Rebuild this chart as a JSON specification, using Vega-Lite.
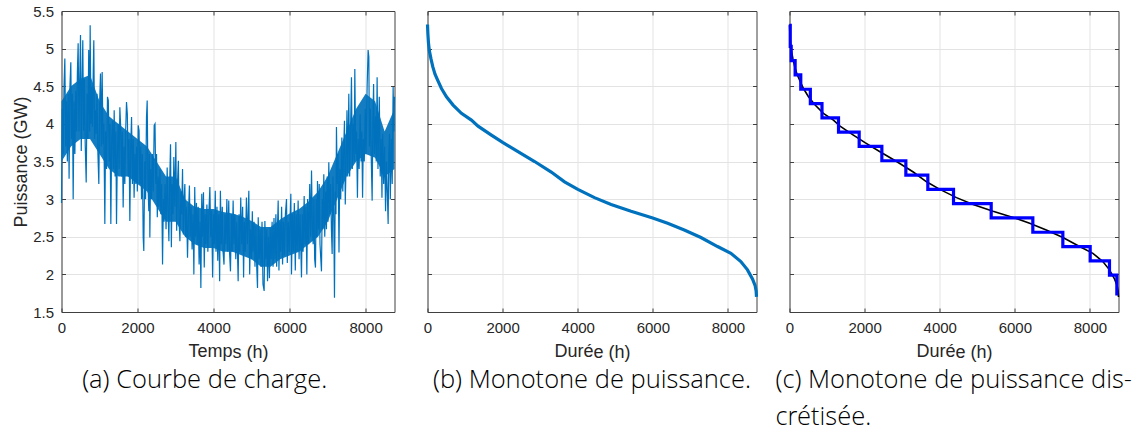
{
  "$schema": "https://vega.github.io/schema/vega-lite/v6.json",
  "padding": {"left": 11.5, "top": 4, "right": 5, "bottom": 0},
  "spacing": 33,
  "bounds": "flush",
  "datasets": {
    "frame": [{"t": 0, "v": 1.5}, {"t": 8760, "v": 5.5}],
    "load": [
      {"h":0,"p":2.95},{"h":20,"p":4.2},{"h":44,"p":3.6},{"h":66,"p":4.5},{"h":88,"p":4.87},{"h":110,"p":3.7},{"h":132,"p":4.3},{"h":154,"p":3.5},{"h":176,"p":4.4},{"h":200,"p":3.27},{"h":222,"p":4.5},{"h":245,"p":4.82},{"h":266,"p":3.8},{"h":287,"p":4.4},{"h":307,"p":3.0},{"h":330,"p":4.3},{"h":352,"p":3.6},{"h":374,"p":4.44},{"h":396,"p":3.9},{"h":418,"p":4.69},{"h":438,"p":5.07},{"h":460,"p":3.9},{"h":480,"p":4.6},{"h":500,"p":5.18},{"h":520,"p":3.64},{"h":540,"p":4.5},{"h":560,"p":5.11},{"h":580,"p":3.91},{"h":600,"p":4.6},{"h":625,"p":3.7},{"h":650,"p":3.22},{"h":672,"p":4.4},{"h":694,"p":3.8},{"h":716,"p":4.98},{"h":740,"p":3.9},{"h":754,"p":5.31},{"h":775,"p":4.0},{"h":795,"p":4.5},{"h":815,"p":3.96},{"h":835,"p":4.7},{"h":850,"p":5.11},{"h":870,"p":3.8},{"h":890,"p":4.18},{"h":912,"p":3.87},{"h":935,"p":4.4},{"h":958,"p":3.6},{"h":982,"p":3.2},
      {"h":1004,"p":4.3},{"h":1026,"p":4.67},{"h":1048,"p":3.7},{"h":1070,"p":4.69},{"h":1092,"p":3.73},{"h":1114,"p":4.0},{"h":1140,"p":2.67},{"h":1160,"p":3.9},{"h":1185,"p":3.4},{"h":1210,"p":4.36},{"h":1232,"p":4.31},{"h":1255,"p":3.5},{"h":1276,"p":4.0},{"h":1298,"p":2.67},{"h":1320,"p":3.8},{"h":1342,"p":4.04},{"h":1365,"p":3.4},{"h":1386,"p":4.18},{"h":1410,"p":3.3},{"h":1430,"p":3.9},{"h":1447,"p":2.67},{"h":1470,"p":3.6},{"h":1492,"p":4.0},{"h":1515,"p":3.4},{"h":1535,"p":4.22},{"h":1557,"p":3.96},{"h":1580,"p":3.3},{"h":1600,"p":3.9},{"h":1622,"p":2.89},{"h":1645,"p":3.7},{"h":1666,"p":3.2},{"h":1688,"p":3.9},{"h":1710,"p":4.29},{"h":1732,"p":4.13},{"h":1755,"p":3.3},{"h":1776,"p":3.8},{"h":1798,"p":2.71},{"h":1820,"p":3.7},{"h":1843,"p":4.09},{"h":1865,"p":3.2},{"h":1888,"p":3.8},{"h":1910,"p":3.02},{"h":1932,"p":3.6},{"h":1955,"p":3.2},{"h":1975,"p":3.7},{"h":1995,"p":3.1},{"h":2017,"p":3.98},{"h":2040,"p":3.91},{"h":2062,"p":3.2},{"h":2085,"p":3.7},{"h":2105,"p":3.0},{"h":2127,"p":3.6},{"h":2149,"p":2.49},{"h":2165,"p":2.31},{"h":2190,"p":3.5},{"h":2212,"p":3.0},{"h":2236,"p":4.09},{"h":2254,"p":4.31},
      {"h":2275,"p":3.2},{"h":2297,"p":2.84},{"h":2310,"p":3.6},{"h":2324,"p":2.49},{"h":2345,"p":3.4},{"h":2368,"p":3.0},{"h":2390,"p":3.6},{"h":2415,"p":3.1},{"h":2438,"p":3.98},{"h":2460,"p":4.0},{"h":2480,"p":3.2},{"h":2500,"p":3.6},{"h":2520,"p":2.76},{"h":2545,"p":3.3},{"h":2565,"p":2.9},{"h":2590,"p":3.4},{"h":2612,"p":2.8},{"h":2635,"p":3.2},{"h":2658,"p":2.13},{"h":2680,"p":3.0},{"h":2700,"p":2.7},{"h":2725,"p":3.2},{"h":2750,"p":2.6},{"h":2780,"p":3.42},{"h":2800,"p":2.9},{"h":2825,"p":2.44},{"h":2845,"p":3.2},{"h":2868,"p":3.73},{"h":2890,"p":2.36},{"h":2910,"p":3.2},{"h":2935,"p":2.8},{"h":2955,"p":3.56},{"h":2980,"p":2.9},{"h":3008,"p":3.76},{"h":3030,"p":2.58},{"h":3050,"p":3.2},{"h":3075,"p":3.51},{"h":3095,"p":2.7},{"h":3115,"p":2.44},{"h":3140,"p":3.1},{"h":3160,"p":2.8},{"h":3184,"p":3.4},{"h":3205,"p":2.53},
      {"h":3225,"p":3.0},{"h":3245,"p":3.2},{"h":3265,"p":2.5},{"h":3290,"p":2.9},{"h":3315,"p":2.22},{"h":3340,"p":2.8},{"h":3365,"p":3.18},{"h":3385,"p":2.5},{"h":3410,"p":2.9},{"h":3435,"p":2.33},{"h":3460,"p":2.8},{"h":3482,"p":2.0},{"h":3505,"p":3.16},{"h":3525,"p":2.5},{"h":3550,"p":2.95},{"h":3570,"p":2.4},{"h":3595,"p":2.9},{"h":3620,"p":2.13},{"h":3645,"p":2.7},{"h":3666,"p":1.82},{"h":3690,"p":3.07},{"h":3710,"p":2.5},{"h":3735,"p":3.09},{"h":3755,"p":2.09},{"h":3780,"p":2.8},{"h":3800,"p":2.4},{"h":3825,"p":2.93},{"h":3850,"p":2.3},{"h":3875,"p":2.8},{"h":3903,"p":3.16},{"h":3925,"p":2.5},{"h":3950,"p":2.85},{"h":3975,"p":1.96},{"h":4000,"p":2.8},{"h":4020,"p":2.4},{"h":4045,"p":3.11},{"h":4065,"p":2.3},{"h":4090,"p":2.9},{"h":4110,"p":2.18},{"h":4135,"p":2.8},{"h":4160,"p":1.91},{"h":4180,"p":3.11},{"h":4205,"p":2.4},{"h":4230,"p":2.9},{"h":4250,"p":2.3},{"h":4275,"p":2.13},{"h":4300,"p":2.8},{"h":4325,"p":2.4},{"h":4350,"p":3.0},{"h":4375,"p":2.3},{"h":4400,"p":2.98},
      {"h":4420,"p":2.3},{"h":4445,"p":2.04},{"h":4470,"p":2.8},{"h":4490,"p":2.3},{"h":4515,"p":2.98},{"h":4535,"p":2.4},{"h":4560,"p":2.8},{"h":4585,"p":2.2},{"h":4610,"p":2.7},{"h":4647,"p":1.91},{"h":4670,"p":2.8},{"h":4690,"p":2.3},{"h":4715,"p":3.02},{"h":4740,"p":2.4},{"h":4765,"p":2.9},{"h":4790,"p":1.96},{"h":4810,"p":2.7},{"h":4835,"p":2.3},{"h":4865,"p":3.02},{"h":4890,"p":2.4},{"h":4910,"p":2.8},{"h":4928,"p":3.11},{"h":4950,"p":2.0},{"h":4975,"p":2.6},{"h":5000,"p":2.2},{"h":5020,"p":2.84},{"h":5040,"p":2.3},{"h":5065,"p":2.7},{"h":5090,"p":2.1},{"h":5115,"p":2.65},{"h":5135,"p":2.1},{"h":5156,"p":1.82},{"h":5175,"p":2.76},{"h":5200,"p":2.2},{"h":5225,"p":2.6},{"h":5250,"p":2.1},{"h":5275,"p":2.7},{"h":5300,"p":1.87},{"h":5331,"p":1.78},{"h":5350,"p":2.71},{"h":5375,"p":2.2},{"h":5400,"p":2.6},{"h":5420,"p":1.91},{"h":5445,"p":2.5},{"h":5470,"p":1.95},{"h":5490,"p":2.62},{"h":5515,"p":2.2},{"h":5540,"p":2.7},{"h":5565,"p":2.1},{"h":5590,"p":2.75},{"h":5615,"p":2.2},{"h":5640,"p":2.8},{"h":5660,"p":2.1},{"h":5680,"p":2.6},{"h":5700,"p":2.98},{"h":5720,"p":2.05},{"h":5745,"p":2.7},{"h":5765,"p":2.3},{"h":5790,"p":2.9},{"h":5815,"p":2.13},{"h":5840,"p":2.7},{"h":5865,"p":2.25},{"h":5890,"p":2.8},{"h":5919,"p":3.0},{"h":5940,"p":2.15},{"h":5965,"p":2.7},{"h":5990,"p":2.3},{"h":6033,"p":3.07},{"h":6050,"p":2.0},{"h":6075,"p":2.8},{"h":6100,"p":2.3},{"h":6125,"p":2.95},{"h":6150,"p":2.05},{"h":6175,"p":2.8},{"h":6200,"p":2.3},{"h":6225,"p":2.98},{"h":6250,"p":2.2},{"h":6275,"p":2.8},{"h":6313,"p":1.96},{"h":6335,"p":2.8},{"h":6355,"p":2.3},{"h":6384,"p":3.04},{"h":6405,"p":2.4},{"h":6430,"p":2.9},{"h":6454,"p":2.0},{"h":6475,"p":3.0},{"h":6500,"p":2.4},{"h":6530,"p":3.2},{"h":6555,"p":2.5},{"h":6577,"p":3.38},{"h":6600,"p":2.6},{"h":6620,"p":2.4},{"h":6640,"p":3.0},{"h":6660,"p":2.2},{"h":6681,"p":2.09},{"h":6700,"p":3.0},{"h":6720,"p":2.5},{"h":6734,"p":3.24},
      {"h":6760,"p":2.6},{"h":6780,"p":3.2},{"h":6800,"p":2.4},{"h":6839,"p":2.04},{"h":6860,"p":3.0},{"h":6880,"p":2.6},{"h":6900,"p":3.33},{"h":6925,"p":2.5},{"h":6950,"p":3.1},{"h":6970,"p":2.6},{"h":6990,"p":3.3},{"h":7010,"p":2.7},{"h":7032,"p":3.49},{"h":7055,"p":2.8},{"h":7080,"p":3.2},{"h":7100,"p":2.6},{"h":7120,"p":2.27},{"h":7140,"p":3.3},{"h":7160,"p":2.9},{"h":7181,"p":1.69},{"h":7200,"p":3.1},{"h":7220,"p":2.8},{"h":7233,"p":3.96},{"h":7255,"p":3.2},{"h":7275,"p":3.6},{"h":7300,"p":2.29},{"h":7320,"p":3.4},{"h":7345,"p":3.0},{"h":7375,"p":3.82},{"h":7400,"p":3.1},{"h":7420,"p":3.6},{"h":7444,"p":4.04},{"h":7465,"p":2.93},{"h":7490,"p":3.6},{"h":7510,"p":4.18},{"h":7530,"p":3.3},{"h":7558,"p":4.4},{"h":7580,"p":3.3},{"h":7600,"p":3.8},{"h":7628,"p":4.62},{"h":7650,"p":3.4},{"h":7675,"p":4.0},{"h":7700,"p":3.5},{"h":7716,"p":4.73},{"h":7740,"p":3.6},{"h":7760,"p":3.9},{"h":7785,"p":3.02},{"h":7805,"p":3.8},{"h":7830,"p":3.4},{"h":7856,"p":4.13},{"h":7880,"p":3.5},{"h":7900,"p":3.9},{"h":7920,"p":3.02},{"h":7940,"p":3.8},{"h":7965,"p":3.5},{"h":7990,"p":4.2},{"h":8010,"p":3.6},{"h":8040,"p":4.49},{"h":8066,"p":4.98},{"h":8085,"p":4.89},{"h":8100,"p":3.7},{"h":8125,"p":4.2},{"h":8150,"p":3.5},{"h":8172,"p":2.98},{"h":8190,"p":4.0},{"h":8210,"p":4.53},{"h":8230,"p":3.6},{"h":8260,"p":4.1},{"h":8280,"p":3.5},{"h":8303,"p":4.62},{"h":8325,"p":3.4},{"h":8345,"p":4.0},{"h":8360,"p":4.36},{"h":8385,"p":3.3},{"h":8410,"p":3.8},{"h":8430,"p":3.02},{"h":8450,"p":3.87},{"h":8475,"p":3.2},{"h":8500,"p":3.7},{"h":8525,"p":2.84},{"h":8550,"p":3.5},{"h":8575,"p":3.0},{"h":8593,"p":2.67},{"h":8610,"p":3.6},{"h":8630,"p":3.87},{"h":8650,"p":3.0},{"h":8675,"p":3.8},{"h":8700,"p":3.2},{"h":8724,"p":4.49},{"h":8745,"p":3.9},{"h":8760,"p":4.36}
    ],
    "core": [
      {"h":0,"lo":3.5,"hi":4.3},{"h":250,"lo":3.7,"hi":4.5},{"h":500,"lo":3.8,"hi":4.6},{"h":750,"lo":3.8,"hi":4.65},{"h":1000,"lo":3.6,"hi":4.3},{"h":1250,"lo":3.4,"hi":4.1},{"h":1500,"lo":3.3,"hi":4.0},{"h":1750,"lo":3.3,"hi":3.9},{"h":2000,"lo":3.2,"hi":3.8},{"h":2250,"lo":3.1,"hi":3.7},{"h":2500,"lo":2.9,"hi":3.5},{"h":2750,"lo":2.7,"hi":3.3},{"h":3000,"lo":2.7,"hi":3.3},{"h":3250,"lo":2.5,"hi":3.0},{"h":3500,"lo":2.4,"hi":2.9},{"h":3750,"lo":2.35,"hi":2.87},{"h":4000,"lo":2.35,"hi":2.87},{"h":4250,"lo":2.3,"hi":2.83},{"h":4500,"lo":2.3,"hi":2.81},{"h":4750,"lo":2.25,"hi":2.77},{"h":5000,"lo":2.2,"hi":2.71},{"h":5250,"lo":2.1,"hi":2.63},{"h":5500,"lo":2.1,"hi":2.63},{"h":5750,"lo":2.2,"hi":2.73},{"h":6000,"lo":2.25,"hi":2.81},{"h":6250,"lo":2.3,"hi":2.87},{"h":6500,"lo":2.4,"hi":2.97},{"h":6750,"lo":2.5,"hi":3.1},{"h":7000,"lo":2.7,"hi":3.3},{"h":7250,"lo":3.0,"hi":3.6},{"h":7500,"lo":3.3,"hi":3.9},{"h":7750,"lo":3.5,"hi":4.2},{"h":8000,"lo":3.6,"hi":4.4},{"h":8250,"lo":3.55,"hi":4.3},{"h":8500,"lo":3.3,"hi":3.9},{"h":8760,"lo":3.4,"hi":4.2}
    ],
    "mono": [
      {"h":0,"p":5.32},{"h":10,"p":5.2},{"h":25,"p":5.08},{"h":50,"p":4.97},{"h":90,"p":4.87},{"h":140,"p":4.76},{"h":200,"p":4.66},{"h":270,"p":4.58},{"h":372,"p":4.47},{"h":505,"p":4.36},{"h":682,"p":4.25},{"h":903,"p":4.14},{"h":1169,"p":4.05},{"h":1346,"p":3.97},{"h":1701,"p":3.85},{"h":2011,"p":3.75},{"h":2409,"p":3.63},{"h":2852,"p":3.5},{"h":3295,"p":3.36},{"h":3649,"p":3.23},{"h":4003,"p":3.13},{"h":4446,"p":3.02},{"h":4889,"p":2.93},{"h":5420,"p":2.84},{"h":5996,"p":2.75},{"h":6394,"p":2.68},{"h":6837,"p":2.59},{"h":7280,"p":2.49},{"h":7723,"p":2.37},{"h":8078,"p":2.28},{"h":8343,"p":2.17},{"h":8520,"p":2.06},{"h":8653,"p":1.94},{"h":8724,"p":1.85},{"h":8750,"p":1.78},{"h":8760,"p":1.7}
    ],
    "steps": [
      {"h":0,"p":5.31},{"h":20,"p":5.03},{"h":45,"p":4.84},{"h":150,"p":4.65},{"h":300,"p":4.46},{"h":555,"p":4.27},{"h":865,"p":4.08},{"h":1305,"p":3.89},{"h":1855,"p":3.7},{"h":2459,"p":3.51},{"h":3098,"p":3.32},{"h":3683,"p":3.13},{"h":4367,"p":2.94},{"h":5370,"p":2.75},{"h":6479,"p":2.56},{"h":7278,"p":2.37},{"h":8006,"p":2.18},{"h":8520,"p":1.99},{"h":8716,"p":1.72}
    ]
  },
  "hconcat": [
    {
      "width": 333, "height": 301,
      "title": {"text": "(a) Courbe de charge.", "orient": "bottom", "anchor": "middle", "frame": "bounds", "offset": 7},
      "layer": [
        {
          "data": {"name": "core"},
          "mark": {"type": "area", "color": "#0072BD", "opacity": 0.92},
          "encoding": {
            "x": {"field": "h", "type": "quantitative", "scale": {"domain": [0, 8760], "nice": false},
                  "axis": {"title": "Temps (h)", "values": [0,2000,4000,6000,8000], "format": "d", "grid": true, "titleAngle": 0.01}},
            "y": {"field": "lo", "type": "quantitative", "scale": {"domain": [1.5, 5.5], "nice": false, "zero": false},
                  "axis": {"title": "Puissance (GW)", "values": [1.5,2,2.5,3,3.5,4,4.5,5,5.5], "format": "~g", "grid": true, "titlePadding": 2.5}},
            "y2": {"field": "hi"}
          }
        },
        {
          "data": {"name": "load"},
          "mark": {"type": "line", "color": "#0072BD", "strokeWidth": 1.2},
          "encoding": {
            "x": {"field": "h", "type": "quantitative", "axis": null},
            "y": {"field": "p", "type": "quantitative", "axis": null}
          }
        },
        {
          "data": {"name": "frame"},
          "mark": {"type": "point", "opacity": 0},
          "encoding": {
            "x": {"field": "t", "type": "quantitative", "axis": {"orient": "top", "title": null, "labels": false, "grid": false, "values": [0,2000,4000,6000,8000]}},
            "y": {"field": "v", "type": "quantitative", "axis": {"orient": "right", "title": null, "labels": false, "grid": false, "values": [1.5,2,2.5,3,3.5,4,4.5,5,5.5]}}
          }
        }
      ],
      "resolve": {"axis": {"x": "independent", "y": "independent"}}
    },
    {
      "width": 329, "height": 301,
      "title": {"text": "(b) Monotone de puissance.", "orient": "bottom", "anchor": "middle", "frame": "group", "offset": 7},
      "layer": [
        {
          "data": {"name": "mono"},
          "mark": {"type": "line", "color": "#0072BD", "strokeWidth": 3.2},
          "encoding": {
            "x": {"field": "h", "type": "quantitative", "scale": {"domain": [0, 8760], "nice": false},
                  "axis": {"title": "Durée (h)", "values": [0,2000,4000,6000,8000], "format": "d", "grid": true, "titleAngle": 0.01}},
            "y": {"field": "p", "type": "quantitative", "scale": {"domain": [1.5, 5.5], "nice": false, "zero": false},
                  "axis": {"title": null, "labels": false, "values": [1.5,2,2.5,3,3.5,4,4.5,5,5.5], "grid": true}}
          }
        },
        {
          "data": {"name": "frame"},
          "mark": {"type": "point", "opacity": 0},
          "encoding": {
            "x": {"field": "t", "type": "quantitative", "axis": {"orient": "top", "title": null, "labels": false, "grid": false, "values": [0,2000,4000,6000,8000]}},
            "y": {"field": "v", "type": "quantitative", "axis": {"orient": "right", "title": null, "labels": false, "grid": false, "values": [1.5,2,2.5,3,3.5,4,4.5,5,5.5]}}
          }
        }
      ],
      "resolve": {"axis": {"x": "independent", "y": "independent"}}
    },
    {
      "width": 329, "height": 301,
      "title": {"text": ["(c) Monotone de puissance dis-", "\u00a0\u00a0\u00a0\u00a0\u00a0\u00a0\u00a0\u00a0\u00a0\u00a0\u00a0\u00a0\u00a0crétisée."], "orient": "bottom", "anchor": "start", "frame": "group", "dx": -14, "offset": 7},
      "layer": [
        {
          "data": {"name": "mono"},
          "mark": {"type": "line", "color": "#000000", "strokeWidth": 1.6},
          "encoding": {
            "x": {"field": "h", "type": "quantitative", "scale": {"domain": [0, 8760], "nice": false},
                  "axis": {"title": "Durée (h)", "values": [0,2000,4000,6000,8000], "format": "d", "grid": true, "titleAngle": 0.01}},
            "y": {"field": "p", "type": "quantitative", "scale": {"domain": [1.5, 5.5], "nice": false, "zero": false},
                  "axis": {"title": null, "labels": false, "values": [1.5,2,2.5,3,3.5,4,4.5,5,5.5], "grid": true}}
          }
        },
        {
          "data": {"name": "steps"},
          "mark": {"type": "line", "color": "#0000FF", "strokeWidth": 3.2, "interpolate": "step-after"},
          "encoding": {
            "x": {"field": "h", "type": "quantitative", "axis": null},
            "y": {"field": "p", "type": "quantitative", "axis": null}
          }
        },
        {
          "data": {"name": "frame"},
          "mark": {"type": "point", "opacity": 0},
          "encoding": {
            "x": {"field": "t", "type": "quantitative", "axis": {"orient": "top", "title": null, "labels": false, "grid": false, "values": [0,2000,4000,6000,8000]}},
            "y": {"field": "v", "type": "quantitative", "axis": {"orient": "right", "title": null, "labels": false, "grid": false, "values": [1.5,2,2.5,3,3.5,4,4.5,5,5.5]}}
          }
        }
      ],
      "resolve": {"axis": {"x": "independent", "y": "independent"}}
    }
  ],
  "config": {
    "view": {"stroke": null},
    "axis": {
      "domainColor": "#404040", "domainWidth": 1,
      "tickColor": "#404040", "tickSize": -4, "tickWidth": 1,
      "gridColor": "#e3e3e3", "gridWidth": 1,
      "labelFont": "Liberation Sans", "labelFontSize": 15, "labelColor": "#262626", "labelPadding": 12, "labelFlush": false,
      "titleFont": "Liberation Sans", "titleFontSize": 18, "titleColor": "#262626", "titleFontWeight": "normal", "titlePadding": 8
    },
    "title": {"font": "Open Sans Light, Open Sans", "fontSize": 25.5, "fontWeight": 300, "color": "#000000", "lineHeight": 37}
  }
}
